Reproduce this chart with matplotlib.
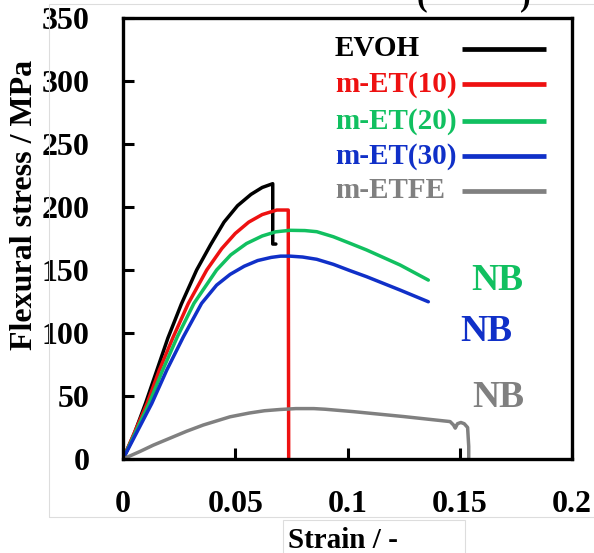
import numpy as np
import matplotlib
matplotlib.use("Agg")
import matplotlib.pyplot as plt
from matplotlib.patches import Rectangle

plt.rcParams['font.family'] = ['Liberation Serif', 'DejaVu Serif']
plt.rcParams['font.weight'] = 'bold'

# strain / stress curves
evoh_x = [0, 0.005, 0.010, 0.015, 0.020, 0.026, 0.0328, 0.039, 0.045, 0.051, 0.057, 0.062, 0.0667,
          0.0667, 0.0681]
evoh_y = [0, 20, 44, 70, 96, 123, 150, 170, 188, 201, 210, 215.5, 218.5, 170.6, 170.6]

et10_x = [0, 0.0107, 0.0162, 0.0224, 0.0291, 0.0373, 0.044, 0.050, 0.056, 0.062, 0.0685, 0.0736, 0.0738]
et10_y = [0, 44, 70.6, 97, 123.5, 150, 167, 179, 188, 194, 197.6, 197.6, 0]

et20_x = [0, 0.0116, 0.0177, 0.0242, 0.0316, 0.0417, 0.048, 0.055, 0.062, 0.068, 0.0744, 0.081,
          0.0863, 0.0937, 0.1011, 0.1085, 0.1234, 0.136]
et20_y = [0, 44, 70.6, 97, 123.5, 150, 162, 171, 177, 180.3, 181.5, 181.3, 180.4, 176.4, 171.2,
          165.9, 154, 142]

et30_x = [0, 0.0128, 0.0195, 0.0269, 0.035, 0.0417, 0.0477, 0.054, 0.060, 0.066, 0.0702, 0.0744,
          0.080, 0.0863, 0.0937, 0.1011, 0.1085, 0.1234, 0.136]
et30_y = [0, 44, 70.6, 97, 123.5, 138, 146.5, 153, 157.5, 160, 161, 161, 160.3, 158.5, 154.5, 149.5,
          144.7, 134.1, 124.8]

etfe_x = [0, 0.0076, 0.0135, 0.0209, 0.0283, 0.0358, 0.0477, 0.0563, 0.063, 0.070, 0.077, 0.085,
          0.090, 0.1026, 0.1249, 0.1457, 0.1472, 0.148, 0.149, 0.1505, 0.152, 0.1535, 0.154, 0.154]
etfe_y = [0, 6, 11, 16.5, 22, 27, 33.5, 36.5, 38.3, 39.3, 40, 40, 39.5, 37.6, 33.7, 29.7, 27, 24.5,
          28, 29, 28, 25, 10, 0]

labels = ['EVOH', 'm-ET(10)', 'm-ET(20)', 'm-ET(30)', 'm-ETFE']
colors = ['#000000', '#ee1111', '#11c060', '#1030c8', '#808080']
xs = [evoh_x, et10_x, et20_x, et30_x, etfe_x]
ys = [evoh_y, et10_y, et20_y, et30_y, etfe_y]

nb_labels = [('NB', 0.1666, 142, '#11c060'), ('NB', 0.162, 101, '#1030c8'), ('NB', 0.167, 49, '#808080')]

xticks = [0, 0.05, 0.1, 0.15, 0.2]
xticklabels = ['0', '0.05', '0.1', '0.15', '0.2']
yticks = [0, 50, 100, 150, 200, 250, 300, 350]

fig = plt.figure(figsize=(5.94, 5.53), dpi=100)
ax = fig.add_axes([123/594, 1 - 459/553, 449/594, 441/553])

for x, y, c in zip(xs, ys, colors):
    ax.plot(x, y, color=c, lw=2.5, solid_joinstyle='round', solid_capstyle='round')

for t, x, y, c in nb_labels:
    ax.text(x, y, t, color=c, fontsize=27, ha='center', va='center', fontweight='bold')

# hand-made legend: text on the left, line sample on the right
leg_rows = [0.930, 0.850, 0.766, 0.687, 0.608]
for lab, c, r in zip(labels, colors, leg_rows):
    ax.text(0.472, r, lab, color=c, fontsize=21, fontweight='bold', ha='left', va='center',
            transform=ax.transAxes)
    ax.plot([0.755, 0.942], [r, r], color=c, lw=3.4, transform=ax.transAxes, solid_capstyle='butt')

ax.set_xlim(0, 0.2)
ax.set_ylim(0, 350)
ax.set_xticks(xticks)
ax.set_xticklabels(xticklabels)
ax.set_yticks(yticks)
ax.tick_params(direction='in', length=8, width=2.2, labelsize=23, pad=22)
ax.tick_params(axis='y', pad=24)
for s in ax.spines.values():
    s.set_linewidth(2.4)

fig.text(25/594, 1 - 205/553, 'Flexural stress / MPa', rotation=90, fontsize=23,
         ha='center', va='center', fontweight='bold')
fig.text(288/594, 1 - 540/553, 'Strain / -', fontsize=21, ha='left', va='center', fontweight='bold')

# faint frame lines of the cropped figure
fig.add_artist(Rectangle((49/594, 1 - 517/553), 560/594, 513/553, transform=fig.transFigure,
                         fill=False, edgecolor='#dddddd', lw=0.8))
fig.add_artist(Rectangle((283/594, -0.05), 182/594, 0.05 + 1 - 520/553, transform=fig.transFigure,
                         fill=False, edgecolor='#dddddd', lw=0.8))
fig.text(417/594, 1 - 12/553, '(', fontsize=23, ha='left', va='bottom', fontweight='bold')
fig.text(520/594, 1 - 12/553, ')', fontsize=23, ha='left', va='bottom', fontweight='bold')

fig.savefig('out.png', dpi=100)
